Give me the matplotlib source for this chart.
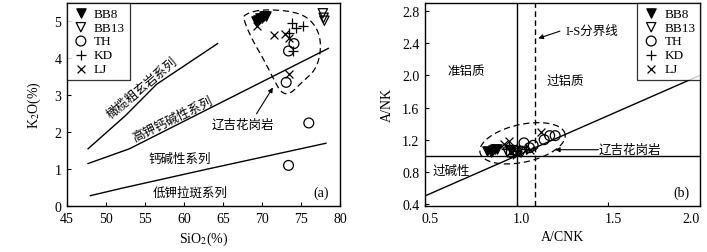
import numpy as np
import matplotlib.pyplot as plt
from matplotlib.transforms import ScaledTranslation

plt.rcParams['font.family'] = ['Liberation Serif', 'Noto Sans CJK SC']
plt.rcParams['mathtext.fontset'] = 'stix'

# -----------------------------
# (a) SiO2 - K2O data
# -----------------------------
groups = ["BB8", "BB13", "TH", "KD", "LJ"]

a_sio2 = {
    "BB8": [69.2, 69.5, 69.8, 70.0, 70.3, 70.5],
    "BB13": [77.8, 77.9, 78.0],
    "TH": [74.1, 73.4, 73.1, 76.0, 73.4],
    "KD": [73.8, 74.3, 75.2, 74.0, 73.4],
    "LJ": [69.3, 71.5, 73.0, 73.4, 73.5],
}
a_k2o = {
    "BB8": [5.0, 5.05, 5.1, 5.1, 5.15, 5.15],
    "BB13": [5.22, 5.1, 5.02],
    "TH": [4.4, 4.2, 3.35, 2.25, 1.1],
    "KD": [4.95, 4.82, 4.88, 4.2, 4.7],
    "LJ": [4.88, 4.62, 4.65, 4.55, 3.58],
}

# series boundaries (Peccerillo & Taylor)
sho_x = [47.7, 52.5, 56.5, 64.3]
sho_y = [1.55, 2.45, 3.3, 4.4]
hk_x = [47.7, 53.0, 78.5]
hk_y = [1.15, 1.55, 4.27]
ca_x = [48.0, 52.0, 63.0, 78.2]
ca_y = [0.28, 0.48, 1.0, 1.7]

# outline of Liaoji granite field
out_x = [67.8, 70.2, 74.9, 77.0, 77.65, 77.0, 75.1, 73.6, 72.5, 71.7, 70.2, 68.7, 67.6]
out_y = [5.20, 5.34, 5.25, 4.88, 4.34, 3.71, 3.35, 3.03, 3.06, 3.35, 3.98, 4.52, 5.07]

# -----------------------------
# (b) A/CNK - A/NK data
# -----------------------------
b_acnk = {
    "BB8": [0.84, 0.86, 0.87, 0.88, 0.89],
    "BB13": [0.95, 0.97, 0.99, 1.01, 1.03],
    "TH": [0.97, 1.0, 1.04, 1.07, 1.09, 1.15, 1.18, 1.21],
    "KD": [0.94, 0.96, 0.98, 1.0, 1.05],
    "LJ": [0.93, 0.96, 1.0, 1.13, 1.07, 0.98],
}
b_ank = {
    "BB8": [1.06, 1.05, 1.07, 1.08, 1.08],
    "BB13": [1.04, 1.07, 1.03, 1.06, 1.05],
    "TH": [1.04, 1.05, 1.16, 1.1, 1.13, 1.2, 1.25, 1.25],
    "KD": [1.08, 1.12, 1.02, 1.06, 1.08],
    "LJ": [1.15, 1.18, 1.04, 1.3, 1.07, 1.1],
}

ell_center = (1.032, 1.155)
ell_major = (0.232, 0.114)
ell_minor = (-0.02, 0.23)

styles = {
    "BB8": dict(marker="v", facecolors="black", edgecolors="black", s=45),
    "BB13": dict(marker="v", facecolors="none", edgecolors="black", s=45),
    "TH": dict(marker="o", facecolors="none", edgecolors="black", s=50),
    "KD": dict(marker="+", color="black", s=45),
    "LJ": dict(marker="x", color="black", s=32),
}


def chaikin(xs, ys, n=3):
    pts = np.column_stack([xs, ys])
    for _ in range(n):
        nxt = np.roll(pts, -1, axis=0)
        q = 0.75 * pts + 0.25 * nxt
        r = 0.25 * pts + 0.75 * nxt
        pts = np.empty((2 * len(q), 2))
        pts[0::2] = q
        pts[1::2] = r
    pts = np.vstack([pts, pts[:1]])
    return pts[:, 0], pts[:, 1]


def style_axes(ax):
    ax.tick_params(direction="in", length=3, width=0.8, labelsize=10,
                   top=False, right=False, pad=4)
    for sp in ax.spines.values():
        sp.set_linewidth(1.0)


def add_legend(ax, loc):
    leg = ax.legend(loc=loc, borderaxespad=0, fancybox=False, frameon=True,
                    fontsize=9.5, handletextpad=0.3, handlelength=1.4,
                    borderpad=0.35, labelspacing=0.12, scatterpoints=1)
    leg.get_frame().set_edgecolor("black")
    leg.get_frame().set_linewidth(0.9)


fig = plt.figure(figsize=(7.07, 2.53), dpi=100)
ax1 = fig.add_axes([67 / 707, 1 - 207 / 253, 273 / 707, 203 / 253])
ax2 = fig.add_axes([425 / 707, 1 - 207 / 253, 275 / 707, 203 / 253])

# ---- panel a ----
for xs, ys in [(sho_x, sho_y), (hk_x, hk_y), (ca_x, ca_y)]:
    ax1.plot(xs, ys, color="black", lw=1.0)
for g in groups:
    ax1.scatter(a_sio2[g], a_k2o[g], label=g, linewidths=0.9, zorder=3, **styles[g])
ox, oy = chaikin(out_x, out_y)
ax1.plot(ox, oy, color="black", lw=0.9, ls=(0, (5, 3)))

ax1.text(54.7, 3.2, "橄榄粗玄岩系列", rotation=40, fontsize=9, ha="center", va="center")
ax1.text(58.6, 2.35, "高钾钙碱性系列", rotation=26, fontsize=9, ha="center", va="center")
ax1.text(59.5, 1.27, "钙碱性系列", fontsize=9, ha="center", va="center")
ax1.text(60.8, 0.37, "低钾拉斑系列", fontsize=9, ha="center", va="center")
ax1.text(67.6, 2.19, "辽吉花岗岩", fontsize=9, ha="center", va="center")
ax1.annotate("", xy=(71.4, 3.21), xytext=(69.3, 2.5),
             arrowprops=dict(arrowstyle="-|>", color="black", lw=0.8,
                             mutation_scale=7, shrinkA=0, shrinkB=0))
ax1.text(77.6, 0.37, "(a)", fontsize=10, ha="center", va="center")

ax1.set_xlim(45, 80)
ax1.set_ylim(0, 5.5)
ax1.set_xticks([45, 50, 55, 60, 65, 70, 75, 80])
ax1.set_yticks([0, 1, 2, 3, 4, 5])
ax1.set_xlabel("SiO$_2$(%)", fontsize=10, labelpad=4)
ax1.set_ylabel("K$_2$O(%)", fontsize=10, labelpad=8)
style_axes(ax1)
add_legend(ax1, "upper left")

# ---- panel b ----
ax2.axvline(1.0, color="black", lw=1.0)
ax2.axhline(1.0, color="black", lw=1.0)
ax2.axvline(1.1, color="black", lw=1.0, ls=(0, (4, 2.5)))
ax2.plot([0.5, 2.0], [0.5, 2.0], color="black", lw=1.0)
for g in groups:
    ax2.scatter(b_acnk[g], b_ank[g], label=g, linewidths=0.9, zorder=3, **styles[g])
t = np.linspace(0, 2 * np.pi, 200)
ex = ell_center[0] + ell_major[0] * np.cos(t) + ell_minor[0] * np.sin(t)
ey = ell_center[1] + ell_major[1] * np.cos(t) + ell_minor[1] * np.sin(t)
ax2.plot(ex, ey, color="black", lw=0.9, ls=(0, (5, 3)))

ax2.text(0.724, 2.06, "准铝质", fontsize=9, ha="center", va="center")
ax2.text(1.264, 1.93, "过铝质", fontsize=9, ha="center", va="center")
ax2.text(0.646, 0.81, "过碱性", fontsize=9, ha="center", va="center")
ax2.text(1.41, 2.55, "I-S分界线", fontsize=9, ha="center", va="center")
ax2.annotate("", xy=(1.118, 2.46), xytext=(1.236, 2.55),
             arrowprops=dict(arrowstyle="-|>", color="black", lw=0.8,
                             mutation_scale=7, shrinkA=0, shrinkB=0))
ax2.text(1.618, 1.075, "辽吉花岗岩", fontsize=9, ha="center", va="center")
ax2.annotate("", xy=(1.209, 1.075), xytext=(1.446, 1.075),
             arrowprops=dict(arrowstyle="-|>", color="black", lw=0.8,
                             mutation_scale=7, shrinkA=0, shrinkB=0))
ax2.text(1.90, 0.545, "(b)", fontsize=10, ha="center", va="center")

ax2.set_xlim(0.5, 2.0)
ax2.set_ylim(0.375, 2.9)
ax2.set_xticks([0.5, 1.0, 1.5, 2.0])
ax2.set_yticks([0.4, 0.8, 1.2, 1.6, 2.0, 2.4, 2.8])
ax2.set_xlabel("A/CNK", fontsize=10, labelpad=4)
ax2.set_ylabel("A/NK", fontsize=10, labelpad=6)
style_axes(ax2)
add_legend(ax2, "upper right")

# keep the last x tick label inside the figure
shift = ScaledTranslation(5 / 100, 0, fig.dpi_scale_trans)
xlabels = ax2.get_xticklabels()
for lab in xlabels[:-1]:
    lab.set_transform(lab.get_transform() + shift)
xlabels[-1].set_horizontalalignment("right")

fig.savefig("out.png", dpi=100)
